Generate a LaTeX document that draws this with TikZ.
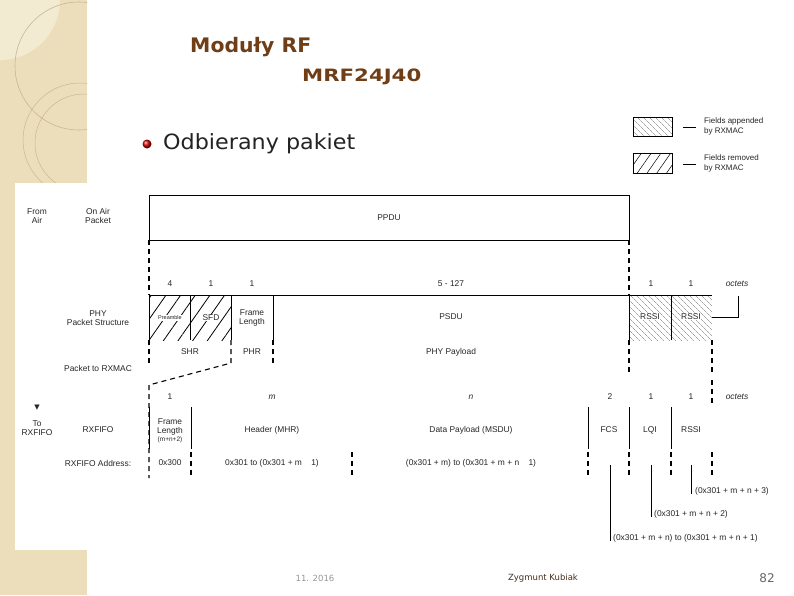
\documentclass[tikz,border=0pt]{standalone}
\usepackage{fontspec}
\setmainfont{Liberation Sans}
\newfontfamily\titlefont{DejaVu Sans}
\usetikzlibrary{patterns.meta}
\definecolor{beige}{RGB}{236,222,186}
\definecolor{beigelight}{RGB}{243,234,210}
\definecolor{arcc}{RGB}{200,184,145}
\definecolor{titlebrown}{RGB}{112,62,22}
\definecolor{textdark}{RGB}{35,35,35}
\definecolor{footgray}{RGB}{150,150,150}
\definecolor{footbrown}{RGB}{70,45,25}
\begin{document}
\begin{tikzpicture}[x=1pt,y=-1pt,
  lbl/.style={font=\fontsize{8.4}{9.6}\selectfont, inner sep=0pt, align=center, text=black!85},
  inum/.style={lbl, font=\fontsize{8.4}{9.6}\selectfont\itshape},
  ln/.style={line width=0.9pt},
  dsh/.style={line width=1.1pt, dash pattern=on 5pt off 4pt},
  hatchA/.style={pattern={Lines[angle=55,distance=12pt,line width=0.8pt]}, pattern color=black},
  hatchB/.style={pattern={Lines[angle=-45,distance=4pt,line width=0.35pt]}, pattern color=black!55},
  foot/.style={font=\titlefont\fontsize{8.5}{10}\selectfont, inner sep=0pt},
]
\useasboundingbox (0,0) rectangle (794,595);
\fill[white] (0,0) rectangle (794,595);
% left decorative strip
\fill[beige] (0,0) rectangle (87,595);
\begin{scope}
  \clip (0,0) rectangle (87,183);
  \fill[beigelight] (0,0) -- (60,0) arc[start angle=180, end angle=270, x radius=-60, y radius=-60] -- cycle;
  \draw[arcc, line width=0.6pt] (79,66) circle (64);
  \draw[arcc, line width=0.5pt] (80,140) circle (57);
  \draw[arcc, line width=0.5pt] (84,143) circle (49);
\end{scope}
\fill[white] (15,183) rectangle (87,550);

% titles
\node[anchor=west, inner sep=0pt, text=titlebrown, font=\titlefont\bfseries\fontsize{20}{22}\selectfont] (title) at (190,47) {\scalebox{1.02}[1]{Moduły RF}};
\node[anchor=west, inner sep=0pt, text=titlebrown, font=\titlefont\bfseries\fontsize{17}{18}\selectfont] (subtitle) at (302,77) {\scalebox{1.25}[1]{MRF24J40}};
\node[circle, inner sep=0pt, minimum size=9pt, ball color=red!80!black] (bullet) at (147,144) {};
\node[anchor=west, inner sep=0pt, text=textdark, font=\titlefont\fontsize{21}{22}\selectfont] (heading) at (163,144) {\scalebox{1.06}[1]{Odbierany pakiet}};

% legend
\node[draw, ln, hatchB, minimum width=39pt, minimum height=19pt, inner sep=0pt] (leg1) at (652.5,126.5) {};
\node[draw, ln, pattern={Lines[angle=55,distance=8pt,line width=0.5pt]}, minimum width=39pt, minimum height=20pt, inner sep=0pt] (leg2) at (652.5,163) {};
\coordinate (d1a) at (683,127); \coordinate (d1b) at (696,127);
\coordinate (d2a) at (683,164); \coordinate (d2b) at (696,164);
\draw[line width=0.7pt] (d1a) -- (d1b);
\draw[line width=0.7pt] (d2a) -- (d2b);
\node[lbl, anchor=west, align=left, font=\fontsize{8}{10}\selectfont] (legt1) at (704,126) {Fields appended\\by RXMAC};
\node[lbl, anchor=west, align=left, font=\fontsize{8}{10}\selectfont] (legt2) at (704,163) {Fields removed\\by RXMAC};

% left labels
\node[lbl] (fromair) at (37,216) {From\\Air};
\node[lbl] (onair) at (98,216) {On Air\\Packet};
\node[lbl] (phyps) at (98,318) {PHY\\Packet Structure};
\node[lbl] (torx) at (98,368) {Packet to RXMAC};
\node[lbl, font=\titlefont\fontsize{7}{8}\selectfont] (arrowdn) at (37,408) {▼};
\node[lbl] (torxfifo) at (37,428) {To\\RXFIFO};
\node[lbl] (rxfifo) at (98,430) {RXFIFO};
\node[lbl] (rxaddr) at (98,463) {RXFIFO Address:};

% PPDU
\node[draw, ln, minimum width=480pt, minimum height=45pt, inner sep=0pt, lbl] (ppdu) at (389,217.5) {PPDU};
\coordinate (pl) at (149,240); \coordinate (pr) at (629,240);
\coordinate (pl2) at (149,295); \coordinate (pr2) at (629,295);
\draw[dsh] (pl) -- (pl2);
\draw[dsh] (pr) -- (pr2);

% PHY row numbers
\node[lbl] (n4) at (170,284) {4};
\node[lbl] (n1a) at (211,284) {1};
\node[lbl] (n1b) at (252,284) {1};
\node[lbl] (n5) at (451,284) {5 - 127};
\node[lbl] (n1c) at (651,284) {1};
\node[lbl] (n1d) at (691,284) {1};
\node[inum] (oct1) at (737,284) {octets};

% PHY structure
\fill[hatchA] (149,295) rectangle (231,340);
\fill[hatchB] (629,295) rectangle (712,340);
\draw[ln] (149,295) -- (712,295);
\foreach \x in {149,190,231,273,629,671} \draw[ln] (\x,295) -- (\x,340);
\node[lbl, fill=white, inner sep=0.5pt, font=\fontsize{5.5}{6}\selectfont] (pre) at (170,318) {Preamble};
\node[lbl, fill=white, inner sep=0.5pt] (sfd) at (211,318) {SFD};
\node[lbl] (flen) at (252,318) {Frame\\Length};
\node[lbl] (psdu) at (451,317) {PSDU};
\node[lbl, fill=white, inner sep=0.5pt] (rssi1) at (650,317) {RSSI};
\node[lbl, fill=white, inner sep=0.5pt] (rssi2) at (691,317) {RSSI};
\node[lbl] (shr) at (190,352) {SHR};
\node[lbl] (phr) at (252,352) {PHR};
\node[lbl] (phypay) at (451,352) {PHY Payload};
\coordinate (rssiR) at (712,317);
\coordinate (octK) at (738,317);
\coordinate (octT) at (738,296);
\draw[line width=0.7pt] (rssiR) -- (octK) -- (octT);

% dashed transitions
\draw[dsh] (149,340) -- (149,363);
\draw[dsh] (273,340) -- (273,363);
\draw[dsh] (231,340) -- (231,363) -- (149,385) -- (149,478);
\draw[dsh] (629,340) -- (629,372);
\draw[dsh] (712,340) -- (712,372);

% RXFIFO numbers
\node[lbl] (m1) at (170,397) {1};
\node[inum] (mm) at (272,397) {m};
\node[inum] (mn) at (471,397) {n};
\node[lbl] (m2) at (610,397) {2};
\node[lbl] (m1b) at (651,397) {1};
\node[lbl] (m1c) at (691,397) {1};
\node[inum] (oct2) at (737,397) {octets};
\draw[dsh] (712,380) -- (712,406);

% RXFIFO row
\foreach \x in {149,191,588,629,671} \draw[ln] (\x,407) -- (\x,449);
\node[lbl] (flen2) at (170,427) {Frame\\Length};
\node[lbl, font=\fontsize{6.5}{7}\selectfont] (mn2) at (170,440) {(m+n+2)};
\node[lbl] (mhr) at (272,430) {Header (MHR)};
\node[lbl] (msdu) at (471,430) {Data Payload (MSDU)};
\node[lbl] (fcs) at (609,430) {FCS};
\node[lbl] (lqi) at (650,430) {LQI};
\node[lbl] (rssi3) at (691,430) {RSSI};

% addresses
\node[lbl] (a300) at (170,463) {0x300};
\node[lbl] (a301) at (272,463) {0x301 to (0x301 + m \ \ \ 1)};
\node[lbl] (a302) at (471,463) {(0x301 + m) to (0x301 + m + n \ \ \ 1)};
\foreach \x in {191,352,588,629,671,712} \draw[dsh] (\x,452) -- (\x,478);

\coordinate (v1t) at (610,465); \coordinate (v1b) at (610,541);
\coordinate (v2t) at (651,465); \coordinate (v2b) at (651,517);
\coordinate (v3t) at (691,465); \coordinate (v3b) at (691,494);
\draw[line width=0.7pt] (v1t) -- (v1b);
\draw[line width=0.7pt] (v2t) -- (v2b);
\draw[line width=0.7pt] (v3t) -- (v3b);
\node[lbl, anchor=west] (l1) at (613,538) {(0x301 + m + n) to (0x301 + m + n + 1)};
\node[lbl, anchor=west] (l2) at (654,514) {(0x301 + m + n + 2)};
\node[lbl, anchor=west] (l3) at (695,491) {(0x301 + m + n + 3)};

% footer
\node[foot, text=footgray] (date) at (315,578) {11. 2016};
\node[foot, text=footbrown] (author) at (543,578) {Zygmunt Kubiak};
\node[foot, text=black!60, font=\titlefont\fontsize{12}{13}\selectfont] (page) at (767,578) {82};
\end{tikzpicture}
\end{document}
